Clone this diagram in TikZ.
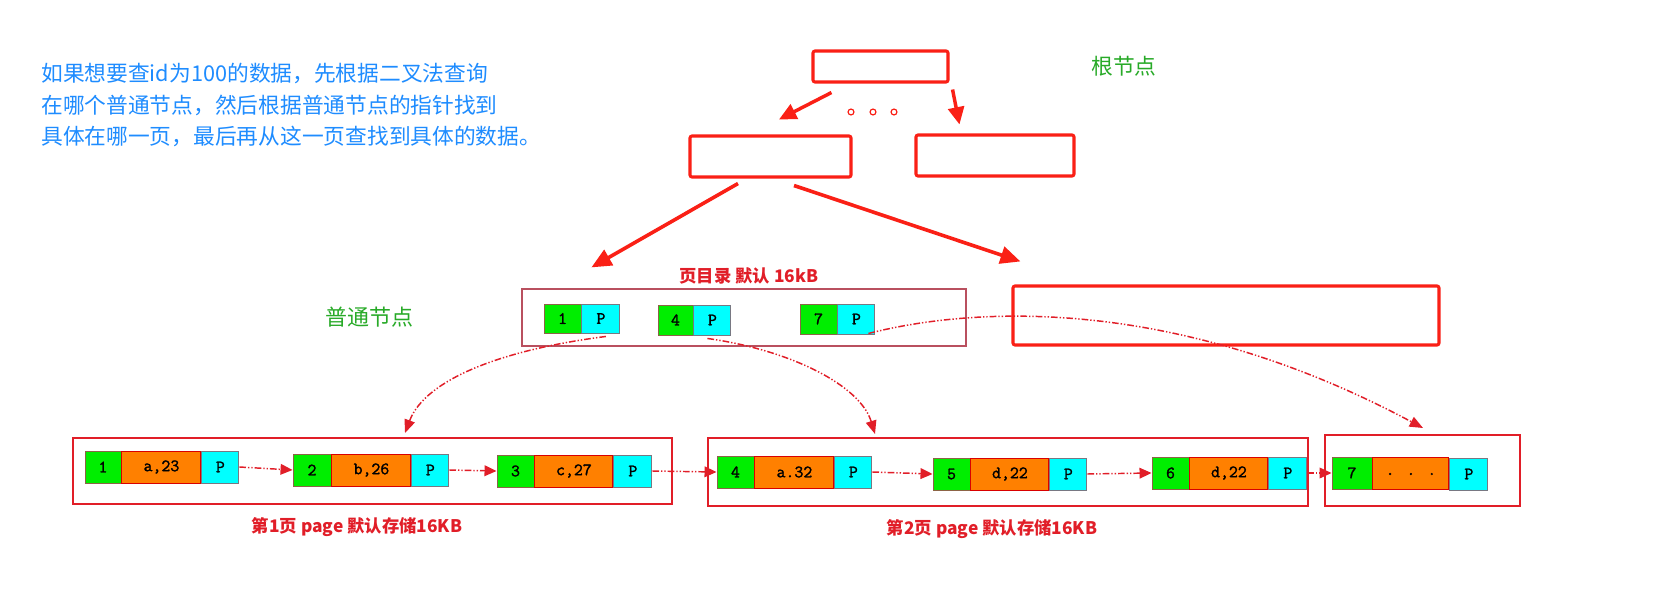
\documentclass[tikz,border=0pt]{standalone}
\usepackage{fontspec}
\setmainfont{Liberation Serif}
\newfontfamily\cjk{Noto Sans CJK SC}
\newfontfamily\cellfont[FakeBold=1.6]{Latin Modern Mono}
\usetikzlibrary{arrows.meta,fit,calc}
\definecolor{tblue}{RGB}{30,140,255}
\definecolor{tgreen}{RGB}{40,170,40}
\definecolor{bred}{RGB}{250,32,22}
\definecolor{pred}{RGB}{225,30,40}
\definecolor{dred}{RGB}{185,80,95}
\definecolor{cgreen}{RGB}{0,238,0}
\definecolor{corange}{RGB}{255,128,0}
\definecolor{ccyan}{RGB}{0,255,255}
\definecolor{gbd}{RGB}{140,100,70}
\definecolor{cbd}{RGB}{120,120,130}
\tikzset{
  box/.style={draw=bred, line width=2.3pt, rounded corners=1.5pt, inner sep=0pt},
  pagebox/.style={draw=pred, line width=1.6pt, inner sep=0pt},
  dirbox/.style={draw=dred, line width=0.9pt, inner sep=0pt},
  wh/.style 2 args={minimum width=#1*0.75pt, minimum height=#2*0.75pt},
  cell/.style={line width=0.7pt, inner sep=0pt, font=\cellfont\fontsize{13}{14}\selectfont},
  gcell/.style={cell, fill=cgreen, draw=gbd},
  ocell/.style={cell, fill=corange, draw=red!85!black, anchor=west},
  ccell/.style={cell, fill=ccyan, draw=cbd, anchor=west},
  lbl/.style={font=\cjk\bfseries\fontsize{13}{14}\selectfont, text=pred, inner sep=0pt},
  rootarrow/.style={draw=bred, line width=2.6pt, -{Triangle[length=13pt,width=12pt]}},
  bigarrow/.style={draw=bred, line width=2.7pt, -{Triangle[length=15pt,width=13pt]}},
  ptr/.style={draw=pred, line width=1.1pt, dash pattern=on 5pt off 1.5pt on 1pt off 1.5pt on 1pt off 1.5pt, -{Triangle[length=9pt,width=8pt]}},
  curvearrow/.style={draw=pred, line width=1.1pt, dash pattern=on 5pt off 1.5pt on 1pt off 1.5pt on 1pt off 1.5pt, -{Triangle[length=10pt,width=8pt]}},
}
\begin{document}
\begin{tikzpicture}[x=0.75pt,y=-0.75pt]
\fill[white] (0,0) rectangle (1678,610);
\useasboundingbox (0,0) rectangle (1678,610);

% explanation text
\node[anchor=west, align=left, inner sep=0pt, text=tblue, font=\cjk\fontsize{16.3}{23.6}\selectfont] (note) at (41,105)
  {如果想要查id为100的数据，先根据二叉法查询\\在哪个普通节点，然后根据普通节点的指针找到\\具体在哪一页，最后再从这一页查找到具体的数据。};

% labels
\node[text=tgreen, font=\cjk\fontsize{16.3}{18}\selectfont] (rootlbl) at (1124,66) {根节点};
\node[text=tgreen, font=\cjk\fontsize{16.5}{18}\selectfont] (normlbl) at (369,317) {普通节点};

% tree boxes
\node[box, fit={(813,51)(948,82)}] (root) {};
\node[box, fit={(690,136)(851,177)}] (l2a) {};
\node[box, fit={(916,135)(1074,176)}] (l2b) {};
\node[box, fit={(1013,286)(1439,345)}] (l3b) {};

% dots
\foreach \xx/\nm in {851/da,873/db,894/dc}
  \draw[bred, line width=0.9pt, fill=white] (\xx,112) circle[radius=2.2pt];

% root arrows
\draw[rootarrow] ($(root.south west)+(20,9)$) -- ($(l2a.north)+(8.5,-15)$);
\draw[rootarrow] ($(root.south east)+(3,6)$) -- ($(l2b.north west)+(45,-9)$);

% directory
\node[lbl] (dirlbl) at (749,276) {页目录 默认 16kB};
\node[dirbox, fit={(522,289)(966,346)}] (dir) {};
\node[gcell, wh={37}{29}] (d1) at (562.5,318.5) {1};
\node[ccell, wh={38}{29}] (d1p) at (d1.east) {P};
\node[gcell, wh={35}{30}] (d4) at (675.5,320) {4};
\node[ccell, wh={37}{30}] (d4p) at (d4.east) {P};
\node[gcell, wh={37}{30}] (d7) at (818.5,319) {7};
\node[ccell, wh={37}{30}] (d7p) at (d7.east) {P};

% big arrows
\draw[bigarrow] ($(l2a.south)+(-32.5,5)$) -- ($(dir.north west)+(70,-21)$);
\draw[bigarrow] ($(l2a.south)+(23.5,7)$) -- ($(l3b.north west)+(9,-23)$);

% page 1
\node[pagebox, fit={(73,438)(672,504)}] (pg1) {};
\node[gcell, wh={36}{32}] (r1) at (103,467) {1};
\node[ocell, wh={79}{32}] (r1v) at (r1.east) {a,23};
\node[ccell, wh={37}{32}] (r1p) at (r1v.east) {P};
\node[gcell, wh={38}{32}] (r2) at (312,470) {2};
\node[ocell, wh={79}{32}] (r2v) at (r2.east) {b,26};
\node[ccell, wh={37}{32}] (r2p) at (r2v.east) {P};
\node[gcell, wh={37}{32}] (r3) at (515.5,471) {3};
\node[ocell, wh={78}{32}] (r3v) at (r3.east) {c,27};
\node[ccell, wh={38}{32}] (r3p) at (r3v.east) {P};
\node[lbl] (pg1lbl) at (357,527) {第1页 page 默认存储16KB};

% page 2
\node[pagebox, fit={(708,438)(1308,506)}] (pg2) {};
\node[gcell, wh={37}{32}] (r4) at (735.5,472) {4};
\node[ocell, wh={79}{32}] (r4v) at (r4.east) {a.32};
\node[ccell, wh={37}{32}] (r4p) at (r4v.east) {P};
\node[gcell, wh={37}{32}] (r5) at (951.5,474) {5};
\node[ocell, wh={78}{32}] (r5v) at (r5.east) {d,22};
\node[ccell, wh={37}{32}] (r5p) at (r5v.east) {P};
\node[gcell, wh={37}{32}] (r6) at (1170.5,473) {6};
\node[ocell, wh={78}{32}] (r6v) at (r6.east) {d,22};
\node[ccell, wh={38}{32}] (r6p) at (r6v.east) {P};
\node[lbl] (pg2lbl) at (992,529) {第2页 page 默认存储16KB};

% page 3
\node[pagebox, fit={(1325,435)(1520,506)}] (pg3) {};
\node[gcell, wh={40}{32}] (r7) at (1352,473) {7};
\node[ocell, wh={76}{32}] (r7v) at (r7.east) {\raisebox{-3pt}{. . .}};
\node[ccell, wh={38}{32}] (r7p) at ([yshift=-0.75pt]r7v.east) {P};

% record pointers
\draw[ptr] (r1p.east) -- (r2.west);
\draw[ptr] (r2p.east) -- (r3.west);
\draw[ptr] (r3p.east) -- (r4.west);
\draw[ptr] (r4p.east) -- (r5.west);
\draw[ptr] (r5p.east) -- (r6.west);
\draw[ptr] (r6p.east) -- (r7.west);

% directory pointers
\coordinate (e1) at (405,433);
\coordinate (e2) at (875,434);
\coordinate (e3) at (1423,428);
\draw[curvearrow] ($(d1p.south)+(5,3)$) .. controls (500,350) and (425,380) .. (e1);
\draw[curvearrow] ($(d4p.south)+(-5,3)$) .. controls (790,350) and (860,385) .. (e2);
\draw[curvearrow] ($(d7p.south east)+(-7,-1)$) .. controls (980,305) and (1180,298) .. (e3);
\end{tikzpicture}
\end{document}
